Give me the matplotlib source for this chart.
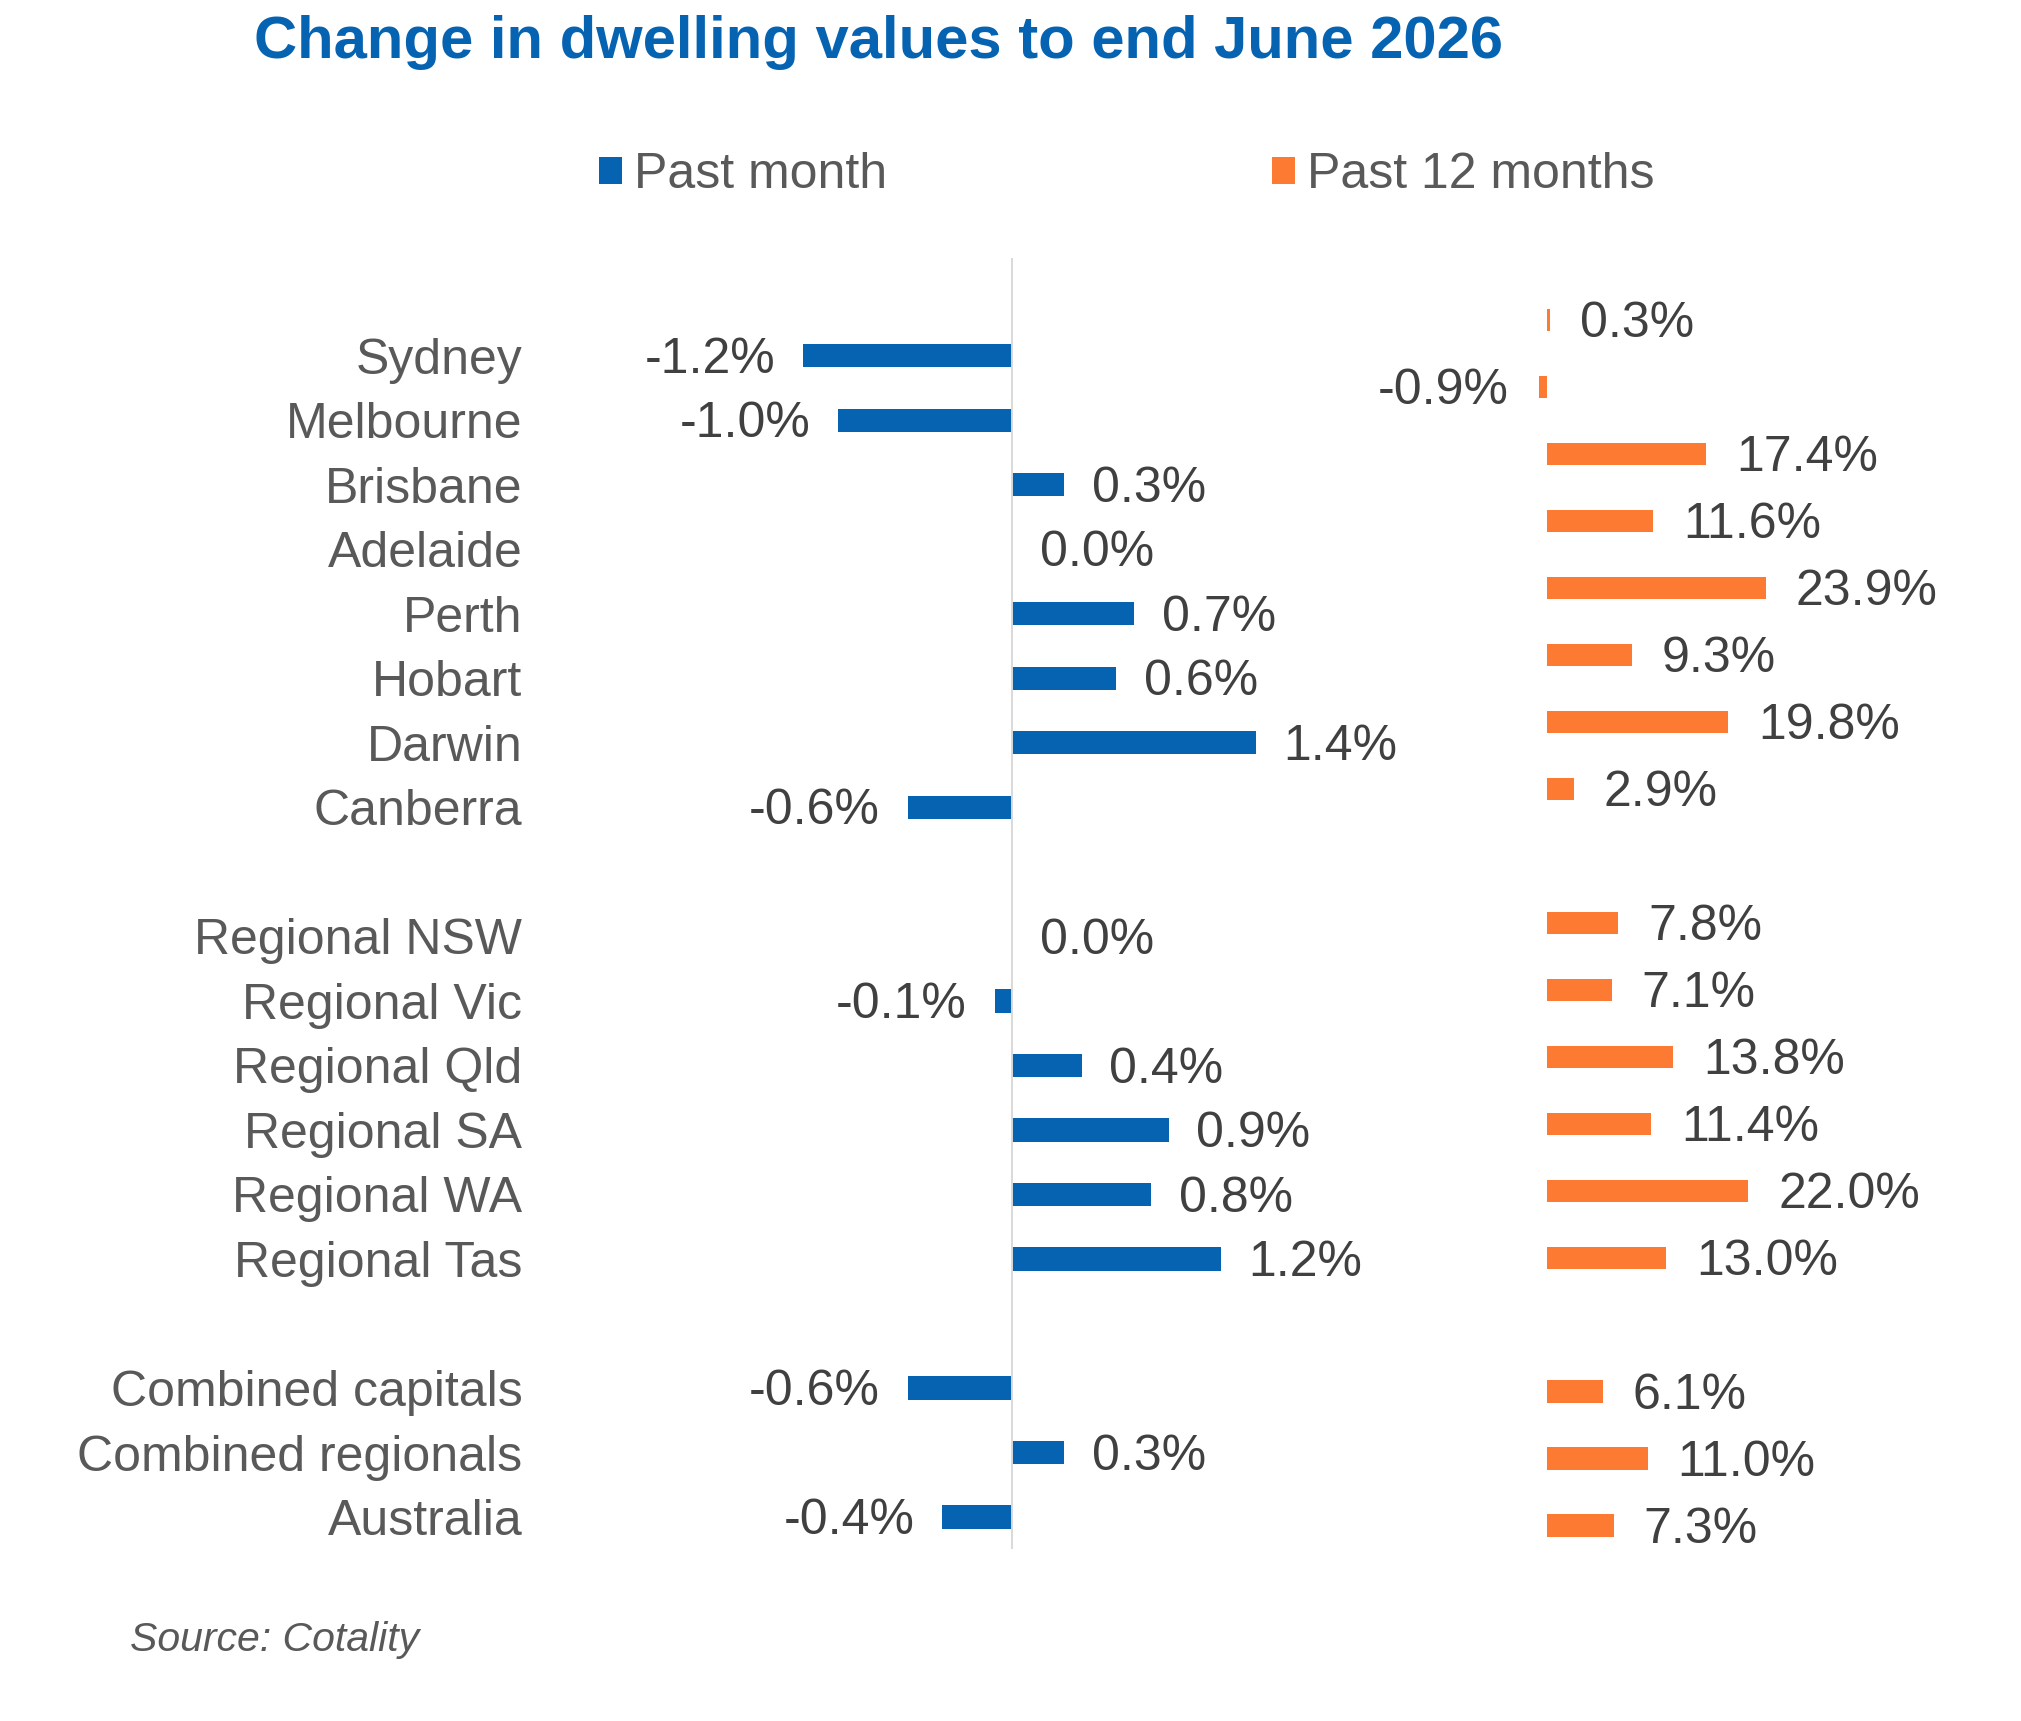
import matplotlib
matplotlib.use("Agg")
import matplotlib.pyplot as plt
import numpy as np

plt.rcParams["font.family"] = ["Liberation Sans", "DejaVu Sans"]

# Data
capitals = ["Sydney", "Melbourne", "Brisbane", "Adelaide", "Perth", "Hobart", "Darwin", "Canberra"]
month_capitals = [-1.2, -1.0, 0.3, 0.0, 0.7, 0.6, 1.4, -0.6]
year_capitals = [0.3, -0.9, 17.4, 11.6, 23.9, 9.3, 19.8, 2.9]

regionals = ["Regional NSW", "Regional Vic", "Regional Qld", "Regional SA", "Regional WA", "Regional Tas"]
month_regionals = [0.0, -0.1, 0.4, 0.9, 0.8, 1.2]
year_regionals = [7.8, 7.1, 13.8, 11.4, 22.0, 13.0]

combined = ["Combined capitals", "Combined regionals", "Australia"]
month_combined = [-0.6, 0.3, -0.4]
year_combined = [6.1, 11.0, 7.3]

# Colours
blue = "#0563B1"
orange = "#FD7A33"
label_grey = "#595959"
value_grey = "#404040"

# Row positions with a blank row between groups
groups = [
    (capitals, month_capitals, year_capitals),
    (regionals, month_regionals, year_regionals),
    (combined, month_combined, year_combined),
]
names, month, year, pos = [], [], [], []
row = 0
for cats, m, y in groups:
    for c, mv, yv in zip(cats, m, y):
        names.append(c)
        month.append(mv)
        year.append(yv)
        pos.append(row)
        row += 1
    row += 1
pos = np.array(pos)

W, H = 2021, 1721
fig = plt.figure(figsize=(W / 100, H / 100), dpi=100)

top_px, bot_px = 258, 1549
ax_bottom = 1 - bot_px / H
ax_height = (bot_px - top_px) / H

# Past month panel
ax1 = fig.add_axes([664 / W, ax_bottom, 696 / W, ax_height])
b1 = ax1.barh(pos, month, height=0.36, color=blue, label="Past month", zorder=2)
ax1.set_xlim(-2.0, 2.0)
ax1.set_ylim(18.495, -1.514)
ax1.axvline(0, color="#D9D9D9", linewidth=1.4, zorder=3)
ax1.set_yticks(pos)
ax1.set_yticklabels(names, fontsize=36, color=label_grey)
ax1.tick_params(axis="y", length=0, pad=102)
ax1.set_xticks([])
for s in ax1.spines.values():
    s.set_visible(False)
for p, v in zip(pos, month):
    ha = "right" if v < 0 else "left"
    off = -20 if v < 0 else 20
    ax1.annotate(f"{v:.1f}%", (v, p), xytext=(off, -3), textcoords="offset points",
                 ha=ha, va="center", fontsize=36, color=value_grey, clip_on=False)

# Past 12 months panel
ax2 = fig.add_axes([1400 / W, ax_bottom, 550 / W, ax_height])
b2 = ax2.barh(pos, year, height=0.33, color=orange, label="Past 12 months")
ax2.set_xlim(-16.07, 44.04)
ax2.set_ylim(18.35, -0.919)
ax2.set_xticks([])
ax2.set_yticks([])
for s in ax2.spines.values():
    s.set_visible(False)
for p, v in zip(pos, year):
    ha = "right" if v < 0 else "left"
    off = -21.5 if v < 0 else 21.5
    ax2.annotate(f"{v:.1f}%", (v, p), xytext=(off, -3.5), textcoords="offset points",
                 ha=ha, va="center", fontsize=36, color=value_grey, clip_on=False)

# Legend
leg = fig.legend(handles=[b1, b2], loc="center left", bbox_to_anchor=(599 / W, 1 - 175 / H),
                 ncol=2, frameon=False, fontsize=36, borderpad=0, borderaxespad=0,
                 handlelength=0.46, handleheight=0.45, handletextpad=0.24, columnspacing=7.7)
for t in leg.get_texts():
    t.set_color(label_grey)

# Title and source
fig.text(878 / W, 1 - 58 / H, "Change in dwelling values to end June 2026", ha="center",
         va="baseline", fontsize=43, fontweight="bold", color=blue)
fig.text(130 / W, 1 - 1651 / H, "Source: Cotality", ha="left", va="baseline",
         fontsize=29.5, style="italic", color=label_grey)

fig.savefig("out.png", dpi=100)
